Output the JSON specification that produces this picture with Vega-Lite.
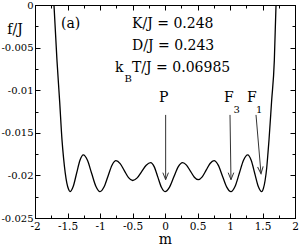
{
  "$schema": "https://vega.github.io/schema/vega-lite/v6.json",
  "width": 260,
  "height": 213,
  "autosize": "none",
  "padding": {"left": 35, "top": 5, "right": 5, "bottom": 27},
  "background": "white",
  "config": {
    "view": {"stroke": "black", "strokeWidth": 1},
    "font": "DejaVu Serif",
    "axis": {
      "grid": false,
      "domainColor": "black",
      "tickColor": "black",
      "labelColor": "black",
      "titleColor": "black",
      "labelFont": "DejaVu Serif",
      "titleFont": "DejaVu Serif",
      "labelFontSize": 10,
      "titleFontSize": 14,
      "titleFontWeight": "normal",
      "domainWidth": 1,
      "tickWidth": 1,
      "labelOverlap": false,
      "labelFlush": false
    }
  },
  "datasets": {
    "curve": [
      {"m": -1.708, "f": 0.0},
      {"m": -1.662, "f": -0.0065},
      {"m": -1.62, "f": -0.0114},
      {"m": -1.585, "f": -0.0158},
      {"m": -1.56, "f": -0.018},
      {"m": -1.535, "f": -0.0197},
      {"m": -1.51, "f": -0.0209},
      {"m": -1.485, "f": -0.0216},
      {"m": -1.462, "f": -0.0219},
      {"m": -1.411, "f": -0.02127},
      {"m": -1.36, "f": -0.01975},
      {"m": -1.308, "f": -0.01823},
      {"m": -1.257, "f": -0.0176},
      {"m": -1.193, "f": -0.01823},
      {"m": -1.129, "f": -0.01975},
      {"m": -1.064, "f": -0.02127},
      {"m": -1.0, "f": -0.0219},
      {"m": -0.9385, "f": -0.02137},
      {"m": -0.877, "f": -0.02009},
      {"m": -0.8155, "f": -0.0188},
      {"m": -0.754, "f": -0.01827},
      {"m": -0.69, "f": -0.01861},
      {"m": -0.626, "f": -0.01944},
      {"m": -0.561, "f": -0.02026},
      {"m": -0.497, "f": -0.0206},
      {"m": -0.428, "f": -0.02029},
      {"m": -0.359, "f": -0.01955},
      {"m": -0.289, "f": -0.01881},
      {"m": -0.22, "f": -0.0185},
      {"m": -0.165, "f": -0.019},
      {"m": -0.11, "f": -0.0202},
      {"m": -0.055, "f": -0.0214},
      {"m": 0.0, "f": -0.0219},
      {"m": 0.0675, "f": -0.0214},
      {"m": 0.135, "f": -0.0202},
      {"m": 0.2025, "f": -0.019},
      {"m": 0.27, "f": -0.0185},
      {"m": 0.3305, "f": -0.01879},
      {"m": 0.391, "f": -0.0195},
      {"m": 0.4515, "f": -0.02021},
      {"m": 0.512, "f": -0.0205},
      {"m": 0.5725, "f": -0.02017},
      {"m": 0.633, "f": -0.01939},
      {"m": 0.6935, "f": -0.0186},
      {"m": 0.754, "f": -0.01827},
      {"m": 0.819, "f": -0.0188},
      {"m": 0.8845, "f": -0.02009},
      {"m": 0.95, "f": -0.02137},
      {"m": 1.015, "f": -0.0219},
      {"m": 1.079, "f": -0.02127},
      {"m": 1.1435, "f": -0.01975},
      {"m": 1.208, "f": -0.01823},
      {"m": 1.272, "f": -0.0176},
      {"m": 1.326, "f": -0.01823},
      {"m": 1.38, "f": -0.01975},
      {"m": 1.434, "f": -0.02127},
      {"m": 1.488, "f": -0.0219},
      {"m": 1.515, "f": -0.0215},
      {"m": 1.54, "f": -0.0206},
      {"m": 1.565, "f": -0.0191},
      {"m": 1.585, "f": -0.0173},
      {"m": 1.6, "f": -0.01585},
      {"m": 1.64, "f": -0.0113},
      {"m": 1.682, "f": -0.0065},
      {"m": 1.708, "f": 0.0}
    ],
    "arrows": [
      {"name": "P", "m": 0.01, "f": -0.0129, "m2": 0.01, "f2": -0.0205},
      {"name": "F3", "m": 1.0, "f": -0.0129, "m2": 1.015, "f2": -0.0205},
      {"name": "F1", "m": 1.4, "f": -0.0129, "m2": 1.477, "f2": -0.0198}
    ],
    "labels": [
      {"m": -1.6, "f": -0.0027, "t": "(a)"},
      {"m": -0.5077, "f": -0.0027, "t": "K/J = 0.248"},
      {"m": -0.5077, "f": -0.00528, "t": "D/J = 0.243"},
      {"m": -0.769, "f": -0.00786, "t": "k"},
      {"m": -0.5077, "f": -0.00786, "t": "T/J = 0.06985"},
      {"m": -0.092, "f": -0.01138, "t": "P"},
      {"m": 0.908, "f": -0.01138, "t": "F"},
      {"m": 1.262, "f": -0.01138, "t": "F"}
    ],
    "subs": [
      {"m": -0.6231, "f": -0.00904, "t": "B"},
      {"m": 1.054, "f": -0.01268, "t": "3"},
      {"m": 1.4, "f": -0.01268, "t": "1"}
    ]
  },
  "resolve": {"axis": {"x": "independent", "y": "independent"}},
  "layer": [
    {
      "data": {"name": "curve"},
      "mark": {"type": "line", "interpolate": "monotone", "color": "black", "strokeWidth": 1.3, "clip": true},
      "encoding": {
        "x": {
          "field": "m", "type": "quantitative",
          "scale": {"domain": [-2, 2], "nice": false, "zero": false},
          "axis": {
            "orient": "bottom",
            "values": [-2, -1.75, -1.5, -1.25, -1, -0.75, -0.5, -0.25, 0, 0.25, 0.5, 0.75, 1, 1.25, 1.5, 1.75, 2],
            "labelExpr": "datum.value % 0.5 == 0 ? '' + datum.value : ''",
            "tickSize": {"condition": {"test": "datum.value % 0.5 == 0", "value": -5}, "value": -3},
            "labelPadding": 8,
            "labelFontSize": 10.5,
            "title": "m",
            "titleFontSize": 14,
            "titleY": 25,
            "titleBaseline": "alphabetic"
          }
        },
        "y": {
          "field": "f", "type": "quantitative",
          "scale": {"domain": [-0.025, 0], "nice": false, "zero": false},
          "axis": {
            "orient": "left",
            "values": [0, -0.0025, -0.005, -0.0075, -0.01, -0.0125, -0.015, -0.0175, -0.02, -0.0225, -0.025],
            "labelExpr": "abs(round(datum.value*400)) % 2 == 0 ? '' + datum.value : ''",
            "tickSize": {"condition": {"test": "abs(round(datum.value*400)) % 2 == 0", "value": -5}, "value": -3},
            "labelPadding": 7,
            "title": "f/J",
            "titleAngle": 0,
            "titleX": -20.5,
            "titleY": 28,
            "titleAlign": "center",
            "titleBaseline": "alphabetic"
          }
        }
      }
    },
    {
      "data": {"name": "arrows"},
      "mark": {"type": "rule", "color": "#333", "strokeWidth": 1},
      "encoding": {
        "x": {
          "field": "m", "type": "quantitative",
          "axis": {
            "orient": "top",
            "values": [-2, -1.75, -1.5, -1.25, -1, -0.75, -0.5, -0.25, 0, 0.25, 0.5, 0.75, 1, 1.25, 1.5, 1.75, 2],
            "labels": false,
            "tickSize": {"condition": {"test": "datum.value % 0.5 == 0", "value": -5}, "value": -3},
            "title": null
          }
        },
        "x2": {"field": "m2"},
        "y": {
          "field": "f", "type": "quantitative",
          "axis": {
            "orient": "right",
            "values": [0, -0.0025, -0.005, -0.0075, -0.01, -0.0125, -0.015, -0.0175, -0.02, -0.0225, -0.025],
            "labels": false,
            "tickSize": {"condition": {"test": "abs(round(datum.value*400)) % 2 == 0", "value": -5}, "value": -3},
            "title": null
          }
        },
        "y2": {"field": "f2"}
      }
    },
    {
      "data": {"name": "arrows"},
      "transform": [{"filter": "datum.name != 'F1'"}],
      "mark": {"type": "point", "shape": "M-0.8,-2L0,0L0.8,-2", "filled": false, "stroke": "#333", "strokeWidth": 1, "size": 49, "opacity": 1},
      "encoding": {
        "x": {"field": "m2", "type": "quantitative", "axis": null},
        "y": {"field": "f2", "type": "quantitative", "axis": null}
      }
    },
    {
      "data": {"name": "arrows"},
      "transform": [{"filter": "datum.name == 'F1'"}],
      "mark": {"type": "point", "shape": "M-0.8,-2L0,0L0.8,-2", "filled": false, "stroke": "#333", "strokeWidth": 1, "size": 49, "opacity": 1, "angle": 355},
      "encoding": {
        "x": {"field": "m2", "type": "quantitative", "axis": null},
        "y": {"field": "f2", "type": "quantitative", "axis": null}
      }
    },
    {
      "data": {"name": "labels"},
      "mark": {"type": "text", "font": "DejaVu Serif", "fontSize": 14, "align": "left", "baseline": "alphabetic", "color": "black"},
      "encoding": {
        "x": {"field": "m", "type": "quantitative", "axis": null},
        "y": {"field": "f", "type": "quantitative", "axis": null},
        "text": {"field": "t"}
      }
    },
    {
      "data": {"name": "subs"},
      "mark": {"type": "text", "font": "DejaVu Serif", "fontSize": 10, "align": "left", "baseline": "alphabetic", "color": "black"},
      "encoding": {
        "x": {"field": "m", "type": "quantitative", "axis": null},
        "y": {"field": "f", "type": "quantitative", "axis": null},
        "text": {"field": "t"}
      }
    }
  ]
}
